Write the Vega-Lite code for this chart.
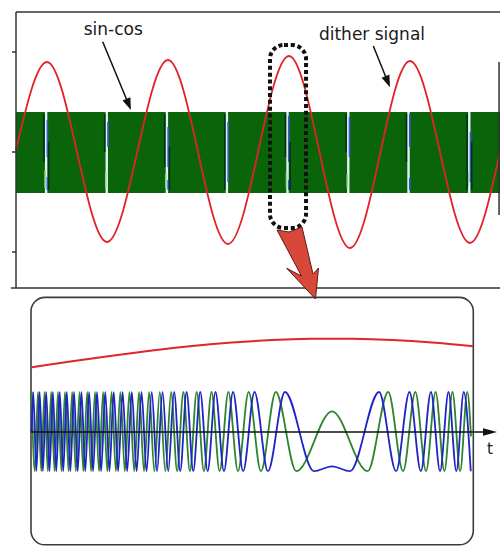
{
  "$schema": "https://vega.github.io/schema/vega-lite/v6.json",
  "autosize": "none",
  "width": 500,
  "height": 546,
  "padding": 0,
  "background": "white",
  "config": {"view": {"stroke": null}, "font": "DejaVu Sans"},
  "datasets": {
    "band": [{"t": 0, "t2": 4, "v": -0.41, "v2": 0.40}],
    "gaps": [
      {"t": 0.249, "v": 0.40, "v2": -0.41, "part": "core"},
      {"t": 0.750, "v": 0.40, "v2": -0.41, "part": "core"},
      {"t": 1.247, "v": 0.40, "v2": -0.41, "part": "core"},
      {"t": 1.743, "v": 0.40, "v2": -0.41, "part": "core"},
      {"t": 2.244, "v": 0.40, "v2": -0.41, "part": "core"},
      {"t": 2.746, "v": 0.40, "v2": -0.41, "part": "core"},
      {"t": 3.244, "v": 0.40, "v2": -0.41, "part": "core"},
      {"t": 3.746, "v": 0.40, "v2": -0.41, "part": "core"},
      {"t": 0.259, "v": 0.32, "v2": -0.05, "part": "blue"},
      {"t": 0.760, "v": 0.30, "v2": 0.05, "part": "blue"},
      {"t": 1.257, "v": 0.25, "v2": -0.15, "part": "blue"},
      {"t": 1.753, "v": 0.30, "v2": -0.30, "part": "blue"},
      {"t": 2.254, "v": 0.36, "v2": -0.10, "part": "blue"},
      {"t": 2.756, "v": 0.35, "v2": -0.05, "part": "blue"},
      {"t": 3.254, "v": 0.38, "v2": 0.05, "part": "blue"},
      {"t": 3.756, "v": 0.20, "v2": -0.30, "part": "blue"},
      {"t": 0.259, "v": -0.25, "v2": -0.38, "part": "blue"},
      {"t": 1.257, "v": -0.28, "v2": -0.38, "part": "blue"},
      {"t": 2.254, "v": -0.28, "v2": -0.38, "part": "blue"},
      {"t": 3.254, "v": -0.26, "v2": -0.38, "part": "blue"},
      {"t": 0.241, "v": -0.18, "v2": -0.36, "part": "light"},
      {"t": 0.742, "v": -0.20, "v2": -0.36, "part": "light"},
      {"t": 1.239, "v": -0.22, "v2": -0.36, "part": "light"},
      {"t": 2.236, "v": -0.20, "v2": -0.36, "part": "light"},
      {"t": 2.738, "v": -0.22, "v2": -0.36, "part": "light"},
      {"t": 3.738, "v": -0.20, "v2": -0.34, "part": "light"},
      {"t": 0.230, "v": 0.38, "v2": -0.10, "part": "dark"},
      {"t": 0.733, "v": 0.38, "v2": 0.00, "part": "dark"},
      {"t": 1.229, "v": 0.38, "v2": -0.15, "part": "dark"},
      {"t": 1.725, "v": 0.38, "v2": -0.38, "part": "dark"},
      {"t": 2.226, "v": 0.38, "v2": -0.05, "part": "dark"},
      {"t": 2.728, "v": 0.38, "v2": 0.00, "part": "dark"},
      {"t": 3.226, "v": 0.38, "v2": -0.10, "part": "dark"},
      {"t": 3.728, "v": 0.38, "v2": -0.38, "part": "dark"},
      {"t": 0.270, "v": 0.10, "v2": -0.38, "part": "dark"},
      {"t": 1.268, "v": 0.05, "v2": -0.38, "part": "dark"},
      {"t": 2.265, "v": 0.10, "v2": -0.38, "part": "dark"},
      {"t": 3.766, "v": 0.10, "v2": -0.38, "part": "dark"}
    ],
    "dither": [
      {"t": 0, "v": 0.02},
      {"t": 0.256, "v": 0.90},
      {"t": 0.752, "v": -0.90},
      {"t": 1.256, "v": 0.92},
      {"t": 1.752, "v": -0.92},
      {"t": 2.256, "v": 0.96},
      {"t": 2.760, "v": -0.96},
      {"t": 3.256, "v": 0.91},
      {"t": 3.752, "v": -0.91},
      {"t": 4.0, "v": 0.0}
    ],
    "window": [{"t": 2.099, "t2": 2.397, "v": -0.76, "v2": 1.07}],
    "labels": [
      {"t": 0.804, "v": 1.17, "label": "sin-cos"},
      {"t": 2.942, "v": 1.125, "label": "dither signal"}
    ],
    "pointers": [
      {"t": 0.7165, "v": 1.103, "t2": 0.9314, "v2": 0.475},
      {"t": 2.9529, "v": 1.06, "t2": 3.0723, "v2": 0.703}
    ],
    "heads": [
      {"t": 0.9314, "v": 0.475},
      {"t": 3.0723, "v": 0.703}
    ],
    "frame": [
      {"t": 0, "t2": 4, "v": 1.4, "v2": 1.4},
      {"t": -0.042, "t2": 4, "v": -1.36, "v2": -1.36},
      {"t": 0, "t2": 0, "v": 1.4, "v2": -1.36},
      {"t": -0.033, "t2": 0, "v": 1, "v2": 1},
      {"t": -0.033, "t2": 0, "v": 0, "v2": 0},
      {"t": -0.033, "t2": 0, "v": -1, "v2": -1},
      {"t": 3.992, "t2": 3.992, "v": 0.9, "v2": -0.63}
    ],
    "bigArrow": [
      {"i": 0, "t": 2.1570, "v": -0.78},
      {"i": 1, "t": 2.2562, "v": -0.80},
      {"i": 2, "t": 2.3636, "v": -0.75},
      {"i": 3, "t": 2.4545, "v": -1.22},
      {"i": 4, "t": 2.5000, "v": -1.16},
      {"i": 5, "t": 2.4752, "v": -1.47},
      {"i": 6, "t": 2.2372, "v": -1.163},
      {"i": 7, "t": 2.3595, "v": -1.24},
      {"i": 8, "t": 2.1570, "v": -0.78}
    ],
    "zoomFrame": [{"u": -3.01, "u2": 1.413, "a": -2.82, "a2": 3.365}],
    "ditherZoom": [
      {"u": -3.0, "a": 1.6175},
      {"u": -2.6, "a": 1.766},
      {"u": -2.2, "a": 1.908},
      {"u": -1.8, "a": 2.038},
      {"u": -1.4, "a": 2.149},
      {"u": -1.0, "a": 2.237},
      {"u": -0.6, "a": 2.2975},
      {"u": -0.2, "a": 2.3285},
      {"u": 0, "a": 2.3325},
      {"u": 0.2, "a": 2.3285},
      {"u": 0.6, "a": 2.2975},
      {"u": 1.0, "a": 2.237},
      {"u": 1.413, "a": 2.145}
    ],
    "cosChirp": [
      {"u": -3.0037, "a": 1}, {"u": -2.9720, "a": -0.98}, {"u": -2.9400, "a": 1}, {"u": -2.9076, "a": -0.98},
      {"u": -2.8749, "a": 1}, {"u": -2.8418, "a": -0.98}, {"u": -2.8083, "a": 1}, {"u": -2.7744, "a": -0.98},
      {"u": -2.7401, "a": 1}, {"u": -2.7053, "a": -0.98}, {"u": -2.6701, "a": 1}, {"u": -2.6344, "a": -0.98},
      {"u": -2.5983, "a": 1}, {"u": -2.5616, "a": -0.98}, {"u": -2.5244, "a": 1}, {"u": -2.4866, "a": -0.98},
      {"u": -2.4483, "a": 1}, {"u": -2.4093, "a": -0.98}, {"u": -2.3697, "a": 1}, {"u": -2.3294, "a": -0.98},
      {"u": -2.2885, "a": 1}, {"u": -2.2467, "a": -0.98}, {"u": -2.2042, "a": 1}, {"u": -2.1609, "a": -0.98},
      {"u": -2.1166, "a": 1}, {"u": -2.0714, "a": -0.98}, {"u": -2.0252, "a": 1}, {"u": -1.9779, "a": -0.98},
      {"u": -1.9295, "a": 1}, {"u": -1.8798, "a": -0.98}, {"u": -1.8288, "a": 1}, {"u": -1.7763, "a": -0.98},
      {"u": -1.7222, "a": 1}, {"u": -1.6664, "a": -0.98}, {"u": -1.6086, "a": 1}, {"u": -1.5486, "a": -0.98},
      {"u": -1.4863, "a": 1}, {"u": -1.4212, "a": -0.98}, {"u": -1.3530, "a": 1}, {"u": -1.2811, "a": -0.98},
      {"u": -1.2050, "a": 1}, {"u": -1.1237, "a": -0.98}, {"u": -1.0361, "a": 1}, {"u": -0.9403, "a": -0.98},
      {"u": -0.8336, "a": 1}, {"u": -0.7111, "a": -0.98}, {"u": -0.5625, "a": 1}, {"u": -0.3567, "a": -0.98},
      {"u": 0, "a": 0.515},
      {"u": 0.3567, "a": -0.98}, {"u": 0.5625, "a": 1}, {"u": 0.7111, "a": -0.98}, {"u": 0.8336, "a": 1},
      {"u": 0.9403, "a": -0.98}, {"u": 1.0361, "a": 1}, {"u": 1.1237, "a": -0.98}, {"u": 1.2050, "a": 1},
      {"u": 1.2811, "a": -0.98}, {"u": 1.3530, "a": 1}, {"u": 1.3900, "a": -0.11}
    ],
    "sinChirp": [
      {"u": -3.0037, "a": 0}, {"u": -2.9879, "a": 1}, {"u": -2.9561, "a": -0.98}, {"u": -2.9239, "a": 1},
      {"u": -2.8913, "a": -0.98}, {"u": -2.8584, "a": 1}, {"u": -2.8251, "a": -0.98}, {"u": -2.7914, "a": 1},
      {"u": -2.7573, "a": -0.98}, {"u": -2.7228, "a": 1}, {"u": -2.6878, "a": -0.98}, {"u": -2.6523, "a": 1},
      {"u": -2.6164, "a": -0.98}, {"u": -2.5800, "a": 1}, {"u": -2.5431, "a": -0.98}, {"u": -2.5056, "a": 1},
      {"u": -2.4675, "a": -0.98}, {"u": -2.4289, "a": 1}, {"u": -2.3896, "a": -0.98}, {"u": -2.3497, "a": 1},
      {"u": -2.3090, "a": -0.98}, {"u": -2.2677, "a": 1}, {"u": -2.2256, "a": -0.98}, {"u": -2.1826, "a": 1},
      {"u": -2.1388, "a": -0.98}, {"u": -2.0941, "a": 1}, {"u": -2.0484, "a": -0.98}, {"u": -2.0017, "a": 1},
      {"u": -1.9539, "a": -0.98}, {"u": -1.9048, "a": 1}, {"u": -1.8545, "a": -0.98}, {"u": -1.8027, "a": 1},
      {"u": -1.7495, "a": -0.98}, {"u": -1.6945, "a": 1}, {"u": -1.6377, "a": -0.98}, {"u": -1.5789, "a": 1},
      {"u": -1.5178, "a": -0.98}, {"u": -1.4541, "a": 1}, {"u": -1.3875, "a": -0.98}, {"u": -1.3175, "a": 1},
      {"u": -1.2436, "a": -0.98}, {"u": -1.1651, "a": 1}, {"u": -1.0808, "a": -0.98}, {"u": -0.9894, "a": 1},
      {"u": -0.8886, "a": -0.98}, {"u": -0.7748, "a": 1}, {"u": -0.6412, "a": -0.98}, {"u": -0.4710, "a": 1},
      {"u": -0.1805, "a": -0.98},
      {"u": 0, "a": -0.857},
      {"u": 0.1805, "a": -0.98}, {"u": 0.4710, "a": 1}, {"u": 0.6412, "a": -0.98}, {"u": 0.7748, "a": 1},
      {"u": 0.8886, "a": -0.98}, {"u": 0.9894, "a": 1}, {"u": 1.0808, "a": -0.98}, {"u": 1.1651, "a": 1},
      {"u": 1.2436, "a": -0.98}, {"u": 1.3175, "a": 1}, {"u": 1.3875, "a": -0.98}
    ],
    "timeAxis": [{"u": -3.01, "u2": 1.52, "a": 0}],
    "timeHead": [{"u": 1.58, "a": 0}],
    "timeLabel": [{"u": 1.58, "a": -0.55, "label": "t"}]
  },
  "layer": [
    {
      "encoding": {
        "x": {"field": "t", "type": "quantitative", "scale": {"domain": [-0.13223, 4.0], "nice": false, "zero": false}, "axis": null},
        "y": {"field": "v", "type": "quantitative", "scale": {"domain": [-3.94, 1.52], "nice": false, "zero": false}, "axis": null}
      },
      "layer": [
        {
          "data": {"name": "band"},
          "mark": {"type": "rect", "color": "#0a650a"},
          "encoding": {"x2": {"field": "t2"}, "y2": {"field": "v2"}}
        },
        {
          "data": {"name": "gaps"},
          "transform": [{"filter": "datum.part == 'core'"}],
          "mark": {"type": "rule", "color": "#e2f1f3", "strokeWidth": 2.4},
          "encoding": {"y2": {"field": "v2"}}
        },
        {
          "data": {"name": "gaps"},
          "transform": [{"filter": "datum.part != 'core'"}],
          "mark": {"type": "rule", "strokeWidth": 1.6},
          "encoding": {
            "y2": {"field": "v2"},
            "color": {"field": "part", "type": "nominal", "scale": {"domain": ["blue", "light", "dark"], "range": ["#3a58d6", "#8fe08c", "#03321a"]}, "legend": null}
          }
        },
        {
          "data": {"name": "dither"},
          "mark": {"type": "line", "color": "#e1222b", "strokeWidth": 1.8, "interpolate": "monotone"},
          "encoding": {}
        },
        {
          "data": {"name": "window"},
          "mark": {"type": "rect", "filled": false, "stroke": "#111", "strokeWidth": 4, "strokeDash": [4, 2.8], "cornerRadius": 14},
          "encoding": {"x2": {"field": "t2"}, "y2": {"field": "v2"}}
        },
        {
          "data": {"name": "labels"},
          "mark": {"type": "text", "font": "DejaVu Sans", "fontSize": 17, "color": "#1a1a1a", "align": "center", "baseline": "alphabetic"},
          "encoding": {"text": {"field": "label"}}
        },
        {
          "data": {"name": "pointers"},
          "mark": {"type": "rule", "color": "#111", "strokeWidth": 1.5},
          "encoding": {"x2": {"field": "t2"}, "y2": {"field": "v2"}}
        },
        {
          "data": {"name": "heads"},
          "mark": {"type": "point", "shape": "M0,-1L0.7,1L-0.7,1Z", "size": 144, "angle": 158, "filled": true, "color": "#111", "opacity": 1, "strokeWidth": 0},
          "encoding": {}
        },
        {
          "data": {"name": "frame"},
          "mark": {"type": "rule", "color": "#333", "strokeWidth": 1.5},
          "encoding": {"x2": {"field": "t2"}, "y2": {"field": "v2"}}
        },
        {
          "data": {"name": "bigArrow"},
          "mark": {"type": "line", "fill": "#d8473a", "stroke": "#5a1c14", "strokeWidth": 1, "interpolate": "linear", "strokeJoin": "miter"},
          "encoding": {"order": {"field": "i", "type": "quantitative"}}
        }
      ]
    },
    {
      "encoding": {
        "x": {"field": "u", "type": "quantitative", "scale": {"domain": [-3.32, 1.68], "nice": false, "zero": false}, "axis": null},
        "y": {"field": "a", "type": "quantitative", "scale": {"domain": [-2.85, 10.8], "nice": false, "zero": false}, "axis": null}
      },
      "layer": [
        {
          "data": {"name": "zoomFrame"},
          "mark": {"type": "rect", "filled": false, "stroke": "#3c3c3c", "strokeWidth": 1.6, "cornerRadius": 14},
          "encoding": {"x2": {"field": "u2"}, "y2": {"field": "a2"}}
        },
        {
          "data": {"name": "ditherZoom"},
          "mark": {"type": "line", "color": "#e0252b", "strokeWidth": 2, "interpolate": "monotone"},
          "encoding": {}
        },
        {
          "data": {"name": "cosChirp"},
          "mark": {"type": "line", "color": "#2c862c", "strokeWidth": 1.8, "interpolate": "monotone"},
          "encoding": {}
        },
        {
          "data": {"name": "sinChirp"},
          "mark": {"type": "line", "color": "#2024c4", "strokeWidth": 1.8, "interpolate": "monotone"},
          "encoding": {}
        },
        {
          "data": {"name": "timeAxis"},
          "mark": {"type": "rule", "color": "#111", "strokeWidth": 1.4},
          "encoding": {"x2": {"field": "u2"}}
        },
        {
          "data": {"name": "timeHead"},
          "mark": {"type": "point", "shape": "M1,0L-1,-0.55L-1,0.55Z", "size": 196, "filled": true, "color": "#111", "opacity": 1, "strokeWidth": 0},
          "encoding": {}
        },
        {
          "data": {"name": "timeLabel"},
          "mark": {"type": "text", "font": "DejaVu Sans", "fontSize": 15, "color": "#1a1a1a", "align": "center", "baseline": "alphabetic"},
          "encoding": {"text": {"field": "label"}}
        }
      ]
    }
  ],
  "resolve": {"scale": {"x": "independent", "y": "independent"}}
}
